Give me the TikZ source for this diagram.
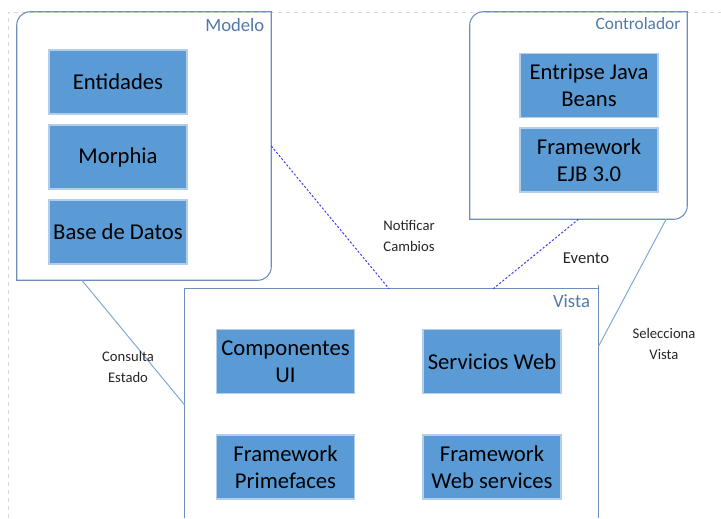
\documentclass[tikz,border=0pt]{standalone}
\usepackage{fontspec}
\setmainfont{Carlito}
\usetikzlibrary{positioning, calc}
\definecolor{boxfill}{HTML}{5B9BD5}
\definecolor{boxedge}{HTML}{B4CDE8}
\definecolor{frameblue}{HTML}{6D8FBD}
\definecolor{titleblue}{HTML}{5079A8}
\definecolor{linkblue}{HTML}{7FA8D8}
\definecolor{dashblue}{HTML}{3C3CF0}
\definecolor{labelgray}{HTML}{262626}
\definecolor{pagegray}{HTML}{D9D9D9}

\begin{document}
\begin{tikzpicture}[x=0.75pt, y=-0.75pt,
    blk/.style={rectangle, fill=boxfill, draw=boxedge, line width=0.8pt, minimum width=103.5pt, minimum height=48pt, inner sep=0pt, align=center, font=\fontsize{17}{20}\selectfont},
    grp/.style={rectangle, inner sep=0pt},
    frame/.style={draw=frameblue, line width=0.8pt},
    ttl/.style={anchor=base east, inner sep=0pt, text=titleblue},
    lbl/.style={align=center, inner sep=0pt, text=labelgray, font=\fontsize{11}{15.5}\selectfont},
    rel/.style={draw=linkblue, line width=0.75pt},
    evt/.style={draw=dashblue, line width=0.75pt, dash pattern=on 1.6pt off 1.4pt}]
    \useasboundingbox (0,0) rectangle (721,518);
    \draw[pagegray, dashed, line width=0.4pt] (8,518) -- (8,12) -- (721,12);

    \node[grp, minimum width=190.5pt, minimum height=201pt] (mod) at (144,146) {};
    \node[grp, minimum width=162.75pt, minimum height=155.25pt] (ctl) at (578.5,115.5) {};
    \node[grp, minimum width=309.75pt, minimum height=171.75pt] (vis) at (391.5,403.5) {};

    \draw[frame] (mod.north east) -- ([xshift=10pt]mod.north west) arc[start angle=90, end angle=180, radius=10pt]
        -- (mod.south west) -- ([xshift=-10pt]mod.south east) arc[start angle=270, end angle=360, radius=10pt] -- cycle;
    \draw[frame] (ctl.north east) -- ([xshift=10pt]ctl.north west) arc[start angle=90, end angle=180, radius=10pt]
        -- (ctl.south west) -- ([xshift=-10pt]ctl.south east) arc[start angle=270, end angle=360, radius=10pt] -- cycle;
    \draw[frame] (vis.south west) -- (vis.north west) -- (vis.north east);
    \draw[frame] ([yshift=3pt]vis.north east) -- (vis.south east);

    \node[ttl, font=\fontsize{14}{16}\selectfont] (modt) at ([xshift=-5pt, yshift=-15pt]mod.north east) {Modelo};
    \node[ttl, font=\fontsize{13}{15}\selectfont] (ctlt) at ([xshift=-5pt, yshift=-13.5pt]ctl.north east) {Controlador};
    \node[ttl, font=\fontsize{14}{16}\selectfont] (vist) at ([xshift=-6pt, yshift=-14pt]vis.north east) {Vista};

    \node[blk] (ent) at (118,82)  {Entidades};
    \node[blk] (mor) at (118,157) {Morphia};
    \node[blk] (bdd) at (118,232) {Base de Datos};
    \node[blk] (ejb) at (589,85.5) {Entripse Java\\Beans};
    \node[blk] (fej) at (589,160) {Framework\\EJB 3.0};
    \node[blk] (cui) at (285.5,361.5) {Componentes\\UI};
    \node[blk] (sw)  at (492,361.5) {Servicios Web};
    \node[blk] (fpf) at (285.5,467) {Framework\\Primefaces};
    \node[blk] (fws) at (492,467) {Framework\\Web services};

    \draw[rel] ($(mod.south west)!0.256!(mod.south east)$) -- ($(vis.north west)!0.507!(vis.south west)$);
    \draw[evt] (mod.east) -- ($(vis.north west)!0.494!(vis.north east)$);
    \draw[evt] (ctl.south) -- ($(vis.north west)!0.746!(vis.north east)$);
    \draw[rel] ($(ctl.south west)!0.903!(ctl.south east)$) -- ($(vis.north east)!0.253!(vis.south east)$);

    \node[lbl] (cons) at (128,367) {Consulta\\Estado};
    \node[lbl] (noti) at (409,236) {Notificar\\Cambios};
    \node[lbl, font=\fontsize{12.5}{15}\selectfont] (even) at (586,258) {Evento};
    \node[lbl] (sele) at (664,344) {Selecciona\\Vista};
\end{tikzpicture}
\end{document}
